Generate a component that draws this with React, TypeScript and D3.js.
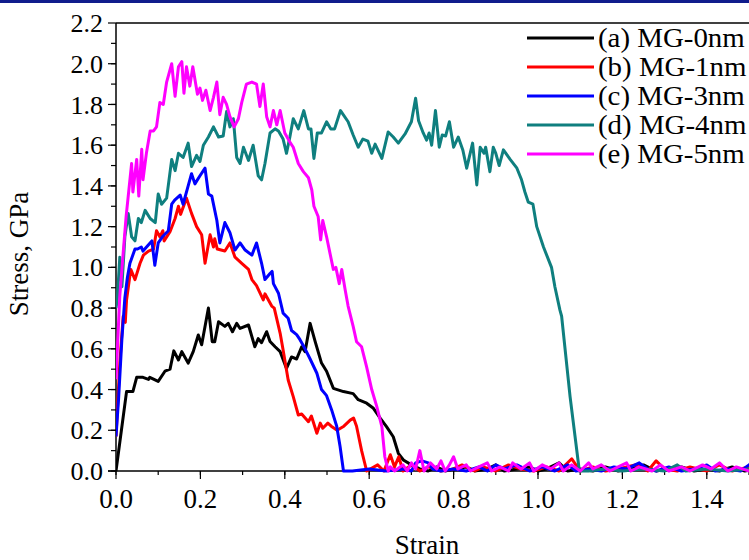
import React from "react";
import * as d3 from "d3";

type Pt = [number, number];

const seriesNames = ["(a) MG-0nm", "(b) MG-1nm", "(c) MG-3nm", "(d) MG-4nm", "(e) MG-5nm"];
const seriesColors = ["#000000", "#ff0000", "#0000ff", "#0f7f7f", "#ff00ff"];

const xTicks = [0, 0.2, 0.4, 0.6, 0.8, 1.0, 1.2, 1.4];
const yTicks = [0, 0.2, 0.4, 0.6, 0.8, 1.0, 1.2, 1.4, 1.6, 1.8, 2.0, 2.2];

const mg0: Pt[] = [
  [0, 0], [0.025, 0.39], [0.04, 0.39], [0.049, 0.46], [0.064, 0.46], [0.077, 0.45], [0.08, 0.46],
  [0.1, 0.44], [0.116, 0.49], [0.128, 0.5], [0.137, 0.59], [0.148, 0.545], [0.156, 0.586],
  [0.171, 0.53], [0.183, 0.586], [0.195, 0.668], [0.203, 0.62], [0.219, 0.8], [0.228, 0.635],
  [0.234, 0.635], [0.243, 0.733], [0.258, 0.71], [0.266, 0.725], [0.276, 0.684], [0.286, 0.725],
  [0.294, 0.7], [0.314, 0.717], [0.329, 0.61], [0.337, 0.65], [0.345, 0.63], [0.357, 0.684],
  [0.365, 0.636], [0.377, 0.61], [0.389, 0.586], [0.404, 0.504], [0.416, 0.56], [0.428, 0.55],
  [0.44, 0.61], [0.448, 0.586], [0.46, 0.725], [0.472, 0.635], [0.487, 0.53], [0.499, 0.49],
  [0.515, 0.406], [0.539, 0.39], [0.562, 0.38], [0.574, 0.35], [0.594, 0.333], [0.61, 0.308],
  [0.626, 0.26], [0.641, 0.218], [0.657, 0.168], [0.669, 0.087], [0.681, 0.054], [0.7, 0.03],
  [0.71, 0.02], [0.72, 0.01], [0.74, 0.0], [0.76, 0.02], [0.78, 0.0], [0.8, 0.01], [0.83, 0.02],
  [0.85, 0.0], [0.88, 0.01], [0.9, 0.03], [0.92, 0.0], [0.95, 0.01], [0.98, 0.02], [1.0, 0.0],
  [1.02, 0.01], [1.05, 0.04], [1.07, 0.0], [1.1, 0.01], [1.13, 0.0], [1.16, 0.02], [1.19, 0.0],
  [1.22, 0.01], [1.25, 0.03], [1.28, 0.0], [1.31, 0.01], [1.34, 0.02], [1.37, 0.0], [1.4, 0.01],
  [1.43, 0.0], [1.46, 0.02], [1.49, 0.0], [1.52, 0.01], [1.56, 0.0], [1.6, 0.01],
];

const mg1: Pt[] = [
  [0, 0.17], [0.009, 0.53], [0.017, 0.76], [0.022, 0.73], [0.025, 0.84], [0.035, 0.99],
  [0.045, 0.94], [0.057, 1.02], [0.065, 1.06], [0.077, 1.08], [0.089, 1.09], [0.096, 1.18],
  [0.104, 1.15], [0.111, 1.18], [0.114, 1.13], [0.128, 1.175], [0.14, 1.24], [0.148, 1.3],
  [0.153, 1.26], [0.167, 1.34], [0.179, 1.265], [0.191, 1.2], [0.203, 1.16], [0.211, 1.02],
  [0.223, 1.16], [0.231, 1.1], [0.234, 1.14], [0.24, 1.09], [0.258, 1.08], [0.27, 1.12],
  [0.282, 1.05], [0.298, 1.02], [0.314, 0.99], [0.322, 0.94], [0.333, 0.91], [0.349, 0.84],
  [0.353, 0.87], [0.369, 0.81], [0.375, 0.8], [0.389, 0.676], [0.396, 0.594], [0.408, 0.447],
  [0.42, 0.365], [0.432, 0.275], [0.44, 0.28], [0.456, 0.242], [0.463, 0.27], [0.476, 0.185],
  [0.484, 0.235], [0.49, 0.21], [0.502, 0.235], [0.51, 0.22], [0.524, 0.2], [0.54, 0.22],
  [0.555, 0.25], [0.563, 0.26], [0.57, 0.22], [0.582, 0.1], [0.594, 0.0],
  [0.62, 0.03], [0.635, 0.0], [0.65, 0.08], [0.66, 0.02], [0.67, 0.07], [0.68, 0.0], [0.7, 0.03],
  [0.72, 0.0], [0.74, 0.02], [0.77, 0.0], [0.8, 0.01], [0.82, 0.03], [0.85, 0.0], [0.87, 0.02],
  [0.9, 0.0], [0.93, 0.03], [0.96, 0.01], [0.99, 0.0], [1.02, 0.02], [1.05, 0.0], [1.08, 0.06],
  [1.1, 0.0], [1.13, 0.02], [1.16, 0.0], [1.19, 0.01], [1.23, 0.03], [1.26, 0.0], [1.28, 0.05],
  [1.3, 0.01], [1.33, 0.0], [1.36, 0.02], [1.4, 0.0], [1.43, 0.03], [1.46, 0.0], [1.5, 0.02],
  [1.53, 0.0], [1.56, 0.01], [1.6, 0.0],
];

const mg3: Pt[] = [
  [0, 0.17], [0.006, 0.35], [0.014, 0.65], [0.021, 0.85], [0.027, 0.95], [0.033, 1.02],
  [0.045, 1.09], [0.051, 1.09], [0.06, 1.1], [0.064, 1.08], [0.085, 1.13], [0.092, 1.01],
  [0.1, 1.12], [0.11, 1.15], [0.124, 1.18], [0.132, 1.31], [0.139, 1.33], [0.152, 1.355],
  [0.159, 1.31], [0.171, 1.4], [0.179, 1.46], [0.187, 1.41], [0.199, 1.45], [0.211, 1.487],
  [0.219, 1.36], [0.227, 1.35], [0.239, 1.23], [0.246, 1.12], [0.258, 1.22], [0.27, 1.17],
  [0.282, 1.085], [0.294, 1.12], [0.306, 1.085], [0.322, 1.06], [0.333, 1.12], [0.345, 1.02],
  [0.353, 0.94], [0.365, 0.97], [0.37, 0.98], [0.373, 0.92], [0.385, 0.873], [0.396, 0.775],
  [0.408, 0.75], [0.416, 0.69], [0.428, 0.67], [0.436, 0.645], [0.448, 0.6], [0.46, 0.55],
  [0.476, 0.48], [0.487, 0.4], [0.499, 0.37], [0.511, 0.3], [0.523, 0.22], [0.531, 0.12],
  [0.539, 0.0], [0.56, 0.0], [0.6, 0.01], [0.64, 0.0], [0.68, 0.01], [0.7, 0.0], [0.71, 0.04],
  [0.725, 0.05], [0.74, 0.04], [0.75, 0.01], [0.77, 0.0], [0.8, 0.01], [0.83, 0.0], [0.86, 0.02],
  [0.88, 0.0], [0.9, 0.03], [0.92, 0.01], [0.95, 0.03], [0.98, 0.0], [1.01, 0.02], [1.04, 0.0],
  [1.07, 0.03], [1.09, 0.0], [1.12, 0.01], [1.15, 0.0], [1.18, 0.02], [1.21, 0.01], [1.24, 0.04],
  [1.26, 0.01], [1.28, 0.0], [1.31, 0.02], [1.34, 0.0], [1.37, 0.01], [1.4, 0.03], [1.42, 0.0],
  [1.45, 0.01], [1.48, 0.0], [1.5, 0.03], [1.52, 0.06], [1.56, 0.05], [1.6, 0.04],
];

const mg4: Pt[] = [
  [0, 0.8], [0.003, 0.84], [0.009, 1.05], [0.014, 0.905], [0.021, 1.15], [0.029, 1.265],
  [0.037, 1.15], [0.045, 1.13], [0.053, 1.24], [0.06, 1.22], [0.069, 1.28], [0.081, 1.24],
  [0.093, 1.22], [0.1, 1.36], [0.108, 1.31], [0.12, 1.34], [0.132, 1.53], [0.14, 1.475],
  [0.148, 1.56], [0.159, 1.54], [0.171, 1.61], [0.179, 1.495], [0.191, 1.55], [0.199, 1.52],
  [0.207, 1.6], [0.219, 1.64], [0.231, 1.69], [0.243, 1.64], [0.254, 1.645], [0.262, 1.765],
  [0.27, 1.69], [0.278, 1.73], [0.286, 1.54], [0.294, 1.51], [0.302, 1.59], [0.314, 1.525],
  [0.325, 1.6], [0.337, 1.45], [0.345, 1.43], [0.353, 1.51], [0.365, 1.66], [0.377, 1.68],
  [0.385, 1.67], [0.396, 1.63], [0.404, 1.56], [0.412, 1.64], [0.42, 1.73], [0.432, 1.68],
  [0.445, 1.77], [0.456, 1.68], [0.462, 1.68], [0.469, 1.535], [0.477, 1.66], [0.487, 1.66],
  [0.499, 1.715], [0.509, 1.68], [0.518, 1.68], [0.532, 1.77], [0.55, 1.715], [0.562, 1.65],
  [0.574, 1.59], [0.585, 1.63], [0.597, 1.62], [0.606, 1.56], [0.614, 1.605], [0.63, 1.535],
  [0.645, 1.665], [0.657, 1.64], [0.669, 1.61], [0.685, 1.655], [0.7, 1.715], [0.71, 1.83],
  [0.717, 1.72], [0.728, 1.66], [0.736, 1.625], [0.742, 1.66], [0.748, 1.6], [0.757, 1.77],
  [0.766, 1.59], [0.773, 1.65], [0.781, 1.645], [0.79, 1.715], [0.8, 1.59], [0.811, 1.64],
  [0.822, 1.575], [0.831, 1.487], [0.845, 1.61], [0.855, 1.405], [0.863, 1.59], [0.872, 1.56],
  [0.876, 1.59], [0.886, 1.47], [0.894, 1.59], [0.9, 1.56], [0.908, 1.5], [0.918, 1.577],
  [0.934, 1.53], [0.95, 1.487], [0.961, 1.43], [0.969, 1.37], [0.977, 1.32], [0.988, 1.31],
  [0.997, 1.2], [1.013, 1.1], [1.032, 1.0], [1.04, 0.905], [1.052, 0.79], [1.056, 0.76],
  [1.076, 0.365], [1.098, 0.0], [1.12, 0.0], [1.16, 0.01], [1.2, 0.0], [1.25, 0.01], [1.3, 0.0],
  [1.33, 0.03], [1.35, 0.0], [1.4, 0.01], [1.45, 0.0], [1.5, 0.01], [1.55, 0.03], [1.57, 0.0],
  [1.6, 0.01],
];

const mg5: Pt[] = [
  [0, 0.45], [0.009, 0.86], [0.017, 1.07], [0.024, 1.25], [0.029, 1.35], [0.037, 1.51],
  [0.04, 1.37], [0.049, 1.53], [0.054, 1.35], [0.061, 1.58], [0.064, 1.43], [0.072, 1.56],
  [0.081, 1.67], [0.089, 1.67], [0.096, 1.69], [0.104, 1.81], [0.112, 1.8], [0.12, 1.91],
  [0.132, 2.0], [0.14, 1.84], [0.148, 1.985], [0.156, 2.01], [0.161, 1.855], [0.167, 1.985],
  [0.175, 1.89], [0.182, 1.985], [0.193, 1.85], [0.199, 1.88], [0.205, 1.82], [0.213, 1.87],
  [0.223, 1.77], [0.231, 1.835], [0.239, 1.91], [0.246, 1.75], [0.254, 1.835], [0.262, 1.8],
  [0.27, 1.74], [0.28, 1.69], [0.29, 1.73], [0.298, 1.81], [0.309, 1.9], [0.322, 1.91],
  [0.333, 1.9], [0.341, 1.79], [0.349, 1.9], [0.357, 1.74], [0.365, 1.69], [0.373, 1.77],
  [0.381, 1.7], [0.389, 1.77], [0.4, 1.66], [0.412, 1.615], [0.42, 1.59], [0.432, 1.51],
  [0.444, 1.47], [0.456, 1.44], [0.464, 1.38], [0.469, 1.3], [0.479, 1.25], [0.485, 1.135],
  [0.49, 1.23], [0.499, 1.15], [0.507, 1.07], [0.515, 0.99], [0.521, 1.0], [0.529, 0.92],
  [0.535, 0.99], [0.543, 0.89], [0.55, 0.81], [0.562, 0.71], [0.57, 0.635], [0.582, 0.61],
  [0.594, 0.51], [0.606, 0.4], [0.618, 0.316], [0.63, 0.218], [0.637, 0.07], [0.645, 0.0],
  [0.65, 0.02], [0.66, 0.0], [0.68, 0.03], [0.69, 0.0], [0.7, 0.04], [0.71, 0.01], [0.72, 0.1],
  [0.73, 0.0], [0.745, 0.04], [0.76, 0.01], [0.77, 0.05], [0.78, 0.0], [0.79, 0.03], [0.8, 0.07],
  [0.81, 0.01], [0.83, 0.03], [0.84, 0.0], [0.86, 0.02], [0.88, 0.04], [0.89, 0.0], [0.91, 0.02],
  [0.93, 0.0], [0.94, 0.04], [0.96, 0.01], [0.98, 0.04], [0.99, 0.0], [1.01, 0.03], [1.03, 0.01],
  [1.05, 0.04], [1.06, 0.0], [1.08, 0.03], [1.1, 0.0], [1.12, 0.04], [1.13, 0.01], [1.15, 0.03],
  [1.17, 0.0], [1.19, 0.02], [1.21, 0.04], [1.22, 0.0], [1.24, 0.02], [1.27, 0.0], [1.29, 0.03],
  [1.31, 0.0], [1.34, 0.02], [1.36, 0.0], [1.39, 0.03], [1.41, 0.01], [1.43, 0.04], [1.45, 0.0],
  [1.47, 0.02], [1.5, 0.0], [1.53, 0.03], [1.55, 0.0], [1.58, 0.02], [1.6, 0.0],
];

const seriesData: Pt[][] = [mg0, mg1, mg3, mg4, mg5];

const W = 749;
const H = 560;
const FONT = "'Liberation Serif', 'Times New Roman', serif";

export default function App() {
  const x = d3.scaleLinear().domain([0, 1.6]).range([116, 116 + 1.6 * 422]);
  const y = d3.scaleLinear().domain([0, 2.2]).range([471, 23]);
  const line = d3
    .line<Pt>()
    .x((d) => x(d[0]))
    .y((d) => y(d[1]));

  const xMinor = d3.range(0, 16).map((i) => i * 0.1);
  const yMinor = d3.range(0, 22).map((i) => i * 0.1);

  return (
    <div>
      <style>{"body{margin:0}"}</style>
      <svg width={W} height={H} style={{ display: "block", background: "#fff" }} fontFamily={FONT}>
        <defs>
          <clipPath id="plotClip">
            <rect x={116} y={23} width={700} height={450} />
          </clipPath>
        </defs>
        <rect x={0} y={0} width={W} height={3} fill="#101c8c" />
        {/* axes frame */}
        <line x1={116} y1={23} x2={W} y2={23} stroke="#000" strokeWidth={1.5} />
        <line x1={116} y1={23} x2={116} y2={471} stroke="#000" strokeWidth={1.5} />
        <line x1={108} y1={471} x2={W} y2={471} stroke="#000" strokeWidth={1.5} />
        {/* y ticks */}
        {yMinor.map((v, i) => (
          <line key={"ym" + i} x1={111} x2={116} y1={y(v)} y2={y(v)} stroke="#000" strokeWidth={1.2} />
        ))}
        {yTicks.map((v) => (
          <g key={"y" + v}>
            <line x1={108} x2={116} y1={y(v)} y2={y(v)} stroke="#000" strokeWidth={1.2} />
            <text x={103} y={y(v)} dy="0.35em" textAnchor="end" fontSize={26}>
              {v.toFixed(1)}
            </text>
          </g>
        ))}
        {/* x ticks */}
        {xMinor.map((v, i) => (
          <line key={"xm" + i} x1={x(v)} x2={x(v)} y1={471} y2={475} stroke="#000" strokeWidth={1.2} />
        ))}
        {xTicks.map((v) => (
          <g key={"x" + v}>
            <line x1={x(v)} x2={x(v)} y1={471} y2={479} stroke="#000" strokeWidth={1.2} />
            <text x={x(v)} y={508} textAnchor="middle" fontSize={27}>
              {v.toFixed(1)}
            </text>
          </g>
        ))}
        <text x={427} y={554} textAnchor="middle" fontSize={27}>
          Strain
        </text>
        <text transform="translate(28,254) rotate(-90)" textAnchor="middle" fontSize={27}>
          Stress, GPa
        </text>
        {/* curves */}
        <g clipPath="url(#plotClip)">
          {seriesData.map((d, i) => (
            <path
              key={"s" + i}
              d={line(d) || ""}
              fill="none"
              stroke={seriesColors[i]}
              strokeWidth={3}
              strokeLinejoin="round"
            />
          ))}
        </g>
        {/* legend */}
        {seriesNames.map((n, i) => (
          <g key={"l" + i} transform={`translate(0,${38 + i * 29})`}>
            <line x1={527} x2={594} y1={0} y2={0} stroke={seriesColors[i]} strokeWidth={3} />
            <text transform="translate(598,0) scale(1.07,1)" dy="0.35em" fontSize={27}>
              {n}
            </text>
          </g>
        ))}
      </svg>
    </div>
  );
}
